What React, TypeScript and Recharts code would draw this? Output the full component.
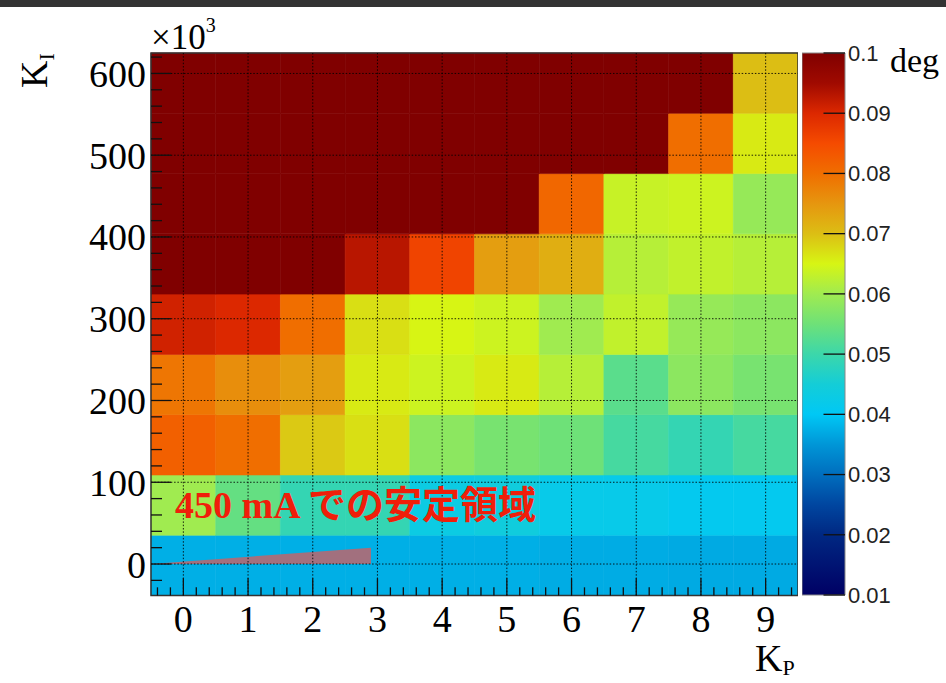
import React from 'react';
import { ComposedChart, XAxis, YAxis, ReferenceArea, ReferenceLine, Area } from 'recharts';

const SERIF = "'Liberation Serif', 'DejaVu Serif', serif";
const SANS = "'Liberation Sans', Arial, sans-serif";

// K_P bins (centres) and K_I bin edges (x10^3)
const KP = [0, 1, 2, 3, 4, 5, 6, 7, 8, 9];
const KI_EDGES = [-38.5, 35.2, 108.9, 182.7, 256.4, 330.1, 403.8, 477.5, 551.3, 625];
const KI_TICKS = [0, 100, 200, 300, 400, 500, 600];

// deviation [deg] per K_P column, one array per K_I bin (bottom -> top)
const DEV_KI_0 = [0.0375, 0.0375, 0.0375, 0.0375, 0.0375, 0.0375, 0.0372, 0.0372, 0.037, 0.037];
const DEV_KI_75 = [0.06, 0.054, 0.049, 0.049, 0.043, 0.044, 0.042, 0.042, 0.041, 0.041];
const DEV_KI_150 = [0.082, 0.08, 0.069, 0.067, 0.058, 0.056, 0.055, 0.051, 0.049, 0.051];
const DEV_KI_220 = [0.079, 0.076, 0.074, 0.066, 0.064, 0.066, 0.062, 0.053, 0.058, 0.056];
const DEV_KI_295 = [0.091, 0.09, 0.08, 0.067, 0.065, 0.064, 0.06, 0.063, 0.059, 0.058];
const DEV_KI_370 = [0.1, 0.1, 0.1, 0.093, 0.086, 0.074, 0.072, 0.062, 0.063, 0.062];
const DEV_KI_440 = [0.1, 0.1, 0.1, 0.1, 0.1, 0.1, 0.081, 0.0635, 0.064, 0.059];
const DEV_KI_515 = [0.1, 0.1, 0.1, 0.1, 0.1, 0.1, 0.1, 0.1, 0.08, 0.066];
const DEV_KI_590 = [0.1, 0.1, 0.1, 0.1, 0.1, 0.1, 0.1, 0.1, 0.1, 0.07];
const DEV_ROWS = [DEV_KI_0, DEV_KI_75, DEV_KI_150, DEV_KI_220, DEV_KI_295, DEV_KI_370, DEV_KI_440, DEV_KI_515, DEV_KI_590];

const Z_MIN = 0.01;
const Z_MAX = 0.1;
const Z_TICKS = [0.01, 0.02, 0.03, 0.04, 0.05, 0.06, 0.07, 0.08, 0.09, 0.1];

// colour palette stops (value, colour)
const PALETTE: [number, string][] = [
  [0.01, '#000064'],
  [0.02, '#002882'],
  [0.025, '#0046a0'],
  [0.03, '#006ebe'],
  [0.035, '#0096d7'],
  [0.04, '#00c8f5'],
  [0.045, '#14cdd7'],
  [0.05, '#3cd7aa'],
  [0.055, '#6ee178'],
  [0.06, '#a0eb50'],
  [0.065, '#d7f514'],
  [0.07, '#dcbe14'],
  [0.075, '#e6960f'],
  [0.08, '#f06e00'],
  [0.085, '#f54b00'],
  [0.09, '#dc2800'],
  [0.095, '#a00a00'],
  [0.1, '#800000'],
];

// stable region marker at 450 mA
const STABLE_EDGE = [
  { kp: -0.5, ki: 0 },
  { kp: 2.9, ki: 20 },
];

const hexRgb = (h: string) => [1, 3, 5].map((i) => parseInt(h.slice(i, i + 2), 16));

const zColor = (v: number) => {
  const z = Math.max(Z_MIN, Math.min(Z_MAX, v));
  for (let i = 1; i < PALETTE.length; i++) {
    const [v1, c1] = PALETTE[i];
    if (z <= v1) {
      const [v0, c0] = PALETTE[i - 1];
      const t = (z - v0) / (v1 - v0);
      const a = hexRgb(c0);
      const b = hexRgb(c1);
      const rgb = a.map((x, k) => Math.round(x + (b[k] - x) * t));
      return `rgb(${rgb.join(',')})`;
    }
  }
  return PALETTE[PALETTE.length - 1][1];
};

const gridStyle = { stroke: '#000', strokeWidth: 1, strokeDasharray: '1.5 1.8', strokeOpacity: 0.85 };

// minor tick positions
const xMinor: number[] = [];
for (let i = -2; i <= 47; i++) xMinor.push(i * 0.2);
const yMinor: number[] = [];
for (let v = -20; v <= 620; v += 20) yMinor.push(v);

const MainChart = () => {
  const yLo = KI_EDGES[0];
  const yHi = KI_EDGES[KI_EDGES.length - 1];
  return (
    <ComposedChart width={798} height={683} data={STABLE_EDGE} margin={{ top: 53, right: 0, bottom: 0, left: 0 }}>
      <XAxis
        dataKey="kp"
        type="number"
        domain={[-0.5, 9.5]}
        allowDataOverflow
        ticks={KP}
        interval={0}
        height={87.5}
        axisLine={false}
        tickLine={false}
        tickSize={0}
        tickMargin={10}
        tick={{ fill: '#000', fontSize: 38, fontFamily: SERIF }}
      />
      <YAxis
        type="number"
        domain={[yLo, yHi]}
        allowDataOverflow
        ticks={KI_TICKS}
        interval={0}
        width={151}
        axisLine={false}
        tickLine={false}
        tickSize={0}
        tickMargin={5}
        tick={{ fill: '#000', fontSize: 38, fontFamily: SERIF }}
      />

      {DEV_ROWS.map((row, r) =>
        row.map((v, c) => (
          <ReferenceArea
            key={`c${r}-${c}`}
            x1={KP[c] - 0.5}
            x2={KP[c] + 0.5}
            y1={KI_EDGES[r]}
            y2={KI_EDGES[r + 1]}
            fill={zColor(v)}
            fillOpacity={1}
            stroke={zColor(v)}
            strokeWidth={0.6}
          />
        ))
      )}

      <Area dataKey="ki" type="linear" baseValue={0} fill="#a2707e" fillOpacity={1} stroke="none" isAnimationActive={false} />

      {KP.map((k) => (
        <ReferenceLine key={`gx${k}`} x={k} {...gridStyle} />
      ))}
      {KI_TICKS.map((k) => (
        <ReferenceLine key={`gy${k}`} y={k} {...gridStyle} />
      ))}

      {xMinor.map((x) => {
        const major = Math.abs(x - Math.round(x)) < 1e-6;
        return (
          <ReferenceLine
            key={`tx${x.toFixed(1)}`}
            segment={[{ x, y: yLo }, { x, y: yLo + (major ? 21 : 10) }]}
            stroke="#111"
            strokeWidth={1.3}
          />
        );
      })}
      {yMinor.map((y) => {
        const major = y % 100 === 0;
        return (
          <ReferenceLine
            key={`ty${y}`}
            segment={[{ x: -0.5, y }, { x: -0.5 + (major ? 0.31 : 0.17), y }]}
            stroke="#111"
            strokeWidth={1.3}
          />
        );
      })}

      <ReferenceArea x1={-0.5} x2={9.5} y1={yLo} y2={yHi} fill="none" stroke="#333" strokeWidth={1.5} />
    </ComposedChart>
  );
};

const ColorBar = () => (
  <ComposedChart width={146} height={683} data={Z_TICKS.map((v) => ({ v }))} margin={{ top: 53, right: 0, bottom: 88, left: 0 }}>
    <defs>
      <linearGradient id="zpal" x1="0" y1="0" x2="0" y2="1">
        {[...PALETTE].reverse().map(([v, c]) => (
          <stop key={v} offset={`${((Z_MAX - v) / (Z_MAX - Z_MIN)) * 100}%`} stopColor={c} />
        ))}
      </linearGradient>
    </defs>
    <XAxis type="number" dataKey="v" domain={[0, 1]} hide />
    <YAxis
      orientation="right"
      type="number"
      domain={[Z_MIN, Z_MAX]}
      allowDataOverflow
      ticks={Z_TICKS}
      interval={0}
      width={103}
      axisLine={false}
      tickLine={false}
      tickSize={0}
      tickMargin={3}
      tickFormatter={(v: number) => String(v)}
      tick={{ fill: '#222', fontSize: 22, fontFamily: SANS, textAnchor: 'start' }}
    />
    <ReferenceArea x1={0} x2={1} y1={Z_MIN} y2={Z_MAX} fill="url(#zpal)" fillOpacity={1} stroke="#888" strokeWidth={1} />
    {Z_TICKS.map((v) => (
      <ReferenceLine key={v} segment={[{ x: 0.5, y: v }, { x: 1, y: v }]} stroke="#111" strokeWidth={1.3} />
    ))}
  </ComposedChart>
);

export default function App() {
  return (
    <div style={{ position: 'absolute', left: 0, top: 0, width: 946, height: 683, background: '#fff', overflow: 'hidden' }}>
      <div style={{ position: 'absolute', left: 0, top: 0, width: 946, height: 7, background: '#333' }} />
      <div style={{ position: 'absolute', left: 0, top: 0 }}>
        <MainChart />
      </div>
      <div style={{ position: 'absolute', left: 802, top: 0 }}>
        <ColorBar />
      </div>
      <svg width={946} height={683} style={{ position: 'absolute', left: 0, top: 0, pointerEvents: 'none' }}>
        <text x={151} y={49} fontFamily={SERIF} fontSize={35} fill="#000">
          ×10<tspan fontSize={20} dy={-17}>3</tspan>
        </text>
        <text transform="translate(47,88) rotate(-90)" fontFamily={SERIF} fontSize={38} fill="#000">
          K<tspan fontSize={22} dy={7}>I</tspan>
        </text>
        <text x={755} y={671} fontFamily={SERIF} fontSize={38} fill="#000">
          K<tspan fontSize={22} dy={4}>P</tspan>
        </text>
        <text x={890} y={72} fontFamily={SERIF} fontSize={34} fill="#000">
          deg
        </text>
        <text x={175} y={518} fontFamily={`${SERIF}, 'Noto Sans CJK JP'`} fontSize={38} fontWeight="bold" fill="#f01e0a">
          450 mA での安定領域
        </text>
      </svg>
    </div>
  );
}
